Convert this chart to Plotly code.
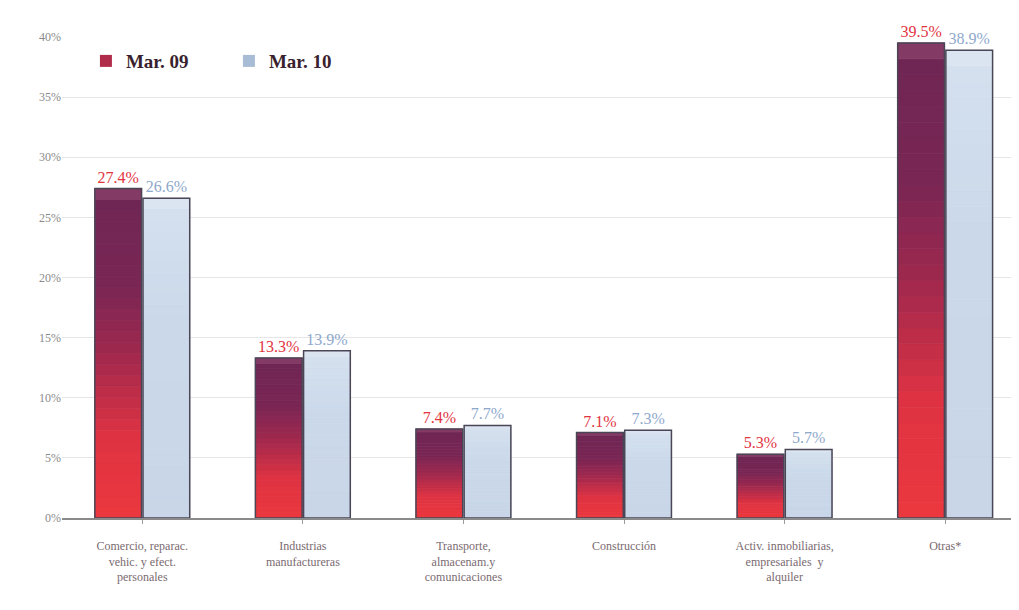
import plotly.graph_objects as go

categories = [
    "Comercio, reparac.<br>vehic. y efect.<br>personales",
    "Industrias<br>manufactureras",
    "Transporte,<br>almacenam.y<br>comunicaciones",
    "Construcción",
    "Activ. inmobiliarias,<br>empresariales  y<br>alquiler",
    "Otras*",
]
mar09 = [27.4, 13.3, 7.4, 7.1, 5.3, 39.5]
mar10 = [26.6, 13.9, 7.7, 7.3, 5.7, 38.9]
series_names = ["Mar. 09", "Mar. 10"]
y_ticks = [0, 5, 10, 15, 20, 25, 30, 35, 40]
y_tick_labels = ["0%", "5%", "10%", "15%", "20%", "25%", "30%", "35%", "40%"]

N = 30


def lerp(c1, c2, t):
    return tuple(int(round(a + (b - a) * t)) for a, b in zip(c1, c2))


def grad(stops, t):
    for i in range(len(stops) - 1):
        t0, c0 = stops[i]
        t1, c1 = stops[i + 1]
        if t0 <= t <= t1:
            return "rgb(%d,%d,%d)" % lerp(c0, c1, (t - t0) / (t1 - t0) if t1 > t0 else 0)
    return "rgb(%d,%d,%d)" % stops[-1][1]


# t = 0 bottom, 1 top
red_stops = [(0.0, (236, 56, 62)), (0.25, (222, 50, 66)), (0.5, (160, 40, 78)),
             (0.7, (122, 38, 84)), (0.95, (112, 38, 84)), (1.0, (140, 70, 110))]
blue_stops = [(0.0, (200, 214, 232)), (0.6, (202, 216, 234)), (0.95, (212, 224, 238)), (1.0, (222, 230, 242))]

fig = go.Figure()
x_idx = list(range(len(categories)))

for name, vals, stops, og in [(series_names[0], mar09, red_stops, "a"),
                              (series_names[1], mar10, blue_stops, "b")]:
    for k in range(N):
        t = (k + 0.5) / N
        c = grad(stops, t)
        fig.add_trace(go.Bar(
            x=x_idx, y=[v / N for v in vals], base=[v * k / N for v in vals],
            offsetgroup=og, marker=dict(color=c, line=dict(width=0.8, color=c)),
            showlegend=False, hoverinfo="skip",
        ))

# outlines + labels
for name, vals, tc, og in [(series_names[0], mar09, "#e2343f", "a"),
                           (series_names[1], mar10, "#8ea8cc", "b")]:
    fig.add_trace(go.Bar(
        x=x_idx, y=vals, offsetgroup=og,
        marker=dict(color="rgba(0,0,0,0)", line=dict(color="#4a4656", width=1.5)),
        text=["%.1f%%" % v for v in vals], textposition="outside",
        textfont=dict(family="Liberation Serif", size=16, color=tc),
        cliponaxis=False, showlegend=False, hoverinfo="skip",
    ))

# legend entries
fig.add_trace(go.Bar(x=[None], y=[None], name=series_names[0],
                     marker=dict(color="#b02c4a", line=dict(width=0))))
fig.add_trace(go.Bar(x=[None], y=[None], name=series_names[1],
                     marker=dict(color="#a9bcd6", line=dict(width=0))))

fig.update_layout(
    width=1011, height=602,
    margin=dict(l=54, r=0, t=29, b=92),
    paper_bgcolor="white", plot_bgcolor="white",
    barmode="group", bargap=0.4, bargroupgap=0.03,
    uniformtext=dict(minsize=8, mode="show"),
    legend=dict(orientation="h", x=0.025, y=0.95, xanchor="left", yanchor="middle",
                font=dict(family="Liberation Serif", size=19, color="#3a1f2e", weight="bold"),
                bgcolor="rgba(0,0,0,0)", itemwidth=30, traceorder="normal",
                entrywidth=98, entrywidthmode="pixels"),
    xaxis=dict(
        tickmode="array", tickvals=x_idx, ticktext=categories,
        range=[-0.5, 5.46], showgrid=False, showline=True,
        linecolor="#8a8a8a", linewidth=1.5,
        ticks="outside", tickson="boundaries", ticklen=4, tickcolor="#9a9a9a",
        ticklabelstandoff=12,
        tickfont=dict(family="Liberation Serif", size=12, color="#7a6a70"),
    ),
    yaxis=dict(
        range=[0, 40], tickmode="array", tickvals=y_ticks, ticktext=y_tick_labels,
        showgrid=True, gridcolor="#e6e6e6", gridwidth=1, zeroline=False,
        showline=False,
        tickfont=dict(family="Liberation Serif", size=12, color="#8a8a8a"),
    ),
    showlegend=True,
)

fig.write_html("out.html")
